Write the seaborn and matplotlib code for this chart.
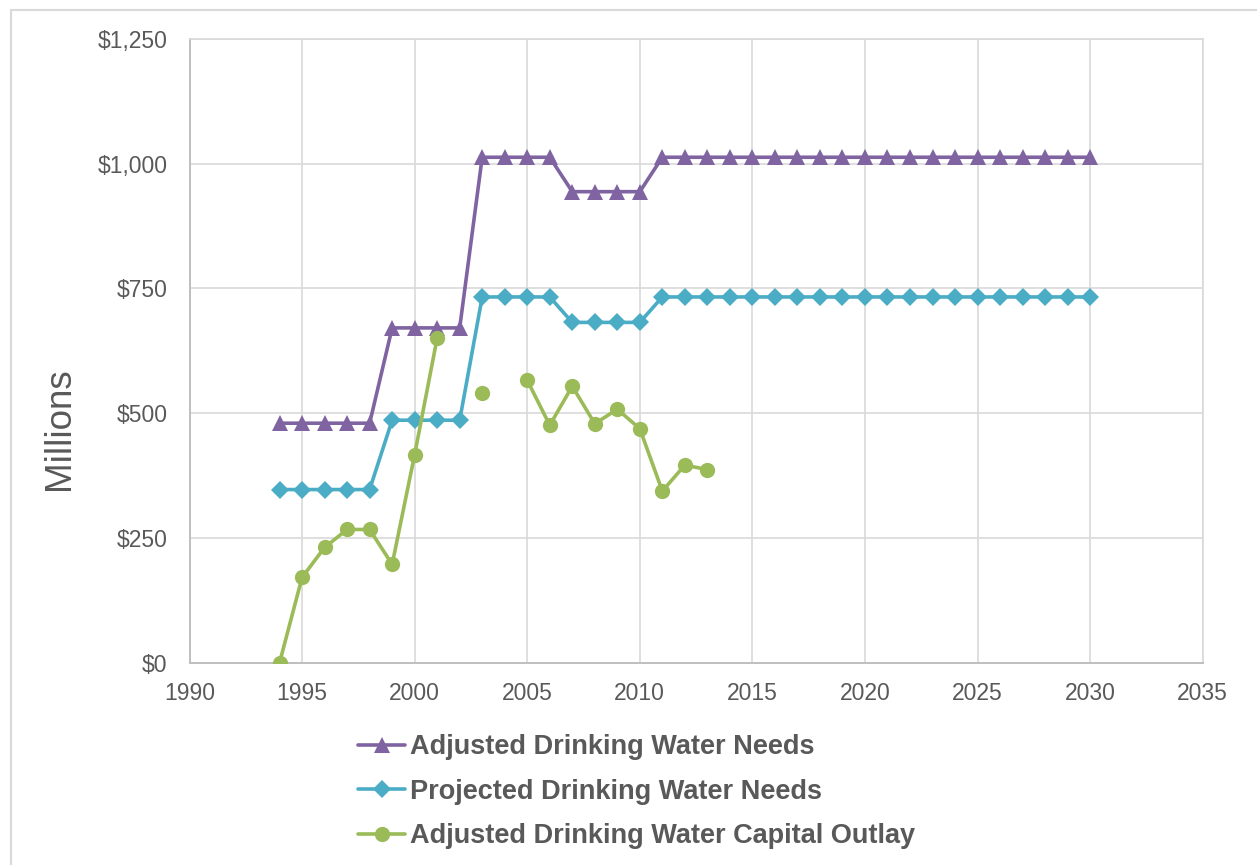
import numpy as np
import pandas as pd
import matplotlib
matplotlib.use("Agg")
import matplotlib.pyplot as plt
from matplotlib.lines import Line2D
from matplotlib.patches import Rectangle
import seaborn as sns

# ---------------- data ----------------
years = list(range(1994, 2031))
adjusted_needs = [480, 480, 480, 480, 480,
                  671, 671, 671, 671,
                  1013, 1013, 1013, 1013,
                  944, 944, 944, 944,
                  1013, 1013, 1013, 1013, 1013, 1013, 1013, 1013, 1013, 1013,
                  1013, 1013, 1013, 1013, 1013, 1013, 1013, 1013, 1013, 1013]
projected_needs = [347, 347, 347, 347, 347,
                   486, 486, 486, 486,
                   733, 733, 733, 733,
                   682, 682, 682, 682,
                   733, 733, 733, 733, 733, 733, 733, 733, 733, 733,
                   733, 733, 733, 733, 733, 733, 733, 733, 733, 733]
outlay_years = list(range(1994, 2014))
capital_outlay = [0, 171, 231, 267, 267, 197, 417, 651, np.nan, 541,
                  np.nan, 566, 476, 554, 479, 508, 469, 344, 396, 387]

series_names = ["Adjusted Drinking Water Needs",
                "Projected Drinking Water Needs",
                "Adjusted Drinking Water Capital Outlay"]
x_ticks = [1990, 1995, 2000, 2005, 2010, 2015, 2020, 2025, 2030, 2035]
y_ticks = [0, 250, 500, 750, 1000, 1250]
y_labels = ["$0", "$250", "$500", "$750", "$1,000", "$1,250"]

# ---------------- style ----------------
sns.set_theme(style="white")
plt.rcParams["font.family"] = ["Liberation Sans", "DejaVu Sans"]
TXT = "#595959"
GRID = "#D9D9D9"
colors = ["#8064A2", "#4BACC6", "#9BBB59"]
markers = ["^", "D", "o"]
msizes = [11.5, 9.5, 11]
LW = 2.6

fig = plt.figure(figsize=(12.57, 8.65), dpi=100)
ax = fig.add_axes([189.5 / 1257, 1 - 662.7 / 865, (1202.7 - 189.5) / 1257, (662.7 - 39) / 865])

df_adj = pd.DataFrame({"year": years, "value": adjusted_needs})
df_proj = pd.DataFrame({"year": years, "value": projected_needs})
df_out = pd.DataFrame({"year": outlay_years, "value": capital_outlay})
# split outlay into continuous segments (gaps where data missing)
df_out["segment"] = df_out["value"].isna().cumsum()
df_out = df_out.dropna()

sns.lineplot(data=df_adj, x="year", y="value", ax=ax, color=colors[0],
             marker=markers[0], markersize=msizes[0], linewidth=LW,
             markeredgecolor=colors[0], markeredgewidth=0, zorder=3)
sns.lineplot(data=df_proj, x="year", y="value", ax=ax, color=colors[1],
             marker=markers[1], markersize=msizes[1], linewidth=LW,
             markeredgecolor=colors[1], markeredgewidth=0, zorder=3)
sns.lineplot(data=df_out, x="year", y="value", ax=ax, color=colors[2],
             units="segment", estimator=None,
             marker=markers[2], markersize=msizes[2], linewidth=LW,
             markeredgecolor=colors[2], markeredgewidth=0, zorder=4)

ax.set_xlim(1990, 2035)
ax.set_ylim(0, 1250)
ax.set_xticks(x_ticks)
ax.set_xticklabels([str(t) for t in x_ticks])
ax.set_yticks(y_ticks)
ax.set_yticklabels(y_labels)
ax.set_xlabel("")
ax.set_ylabel("")
ax.grid(True, color=GRID, linewidth=1.2)
ax.set_axisbelow(True)
for s in ["top", "right"]:
    ax.spines[s].set_color(GRID)
    ax.spines[s].set_linewidth(1.2)
for s in ["left", "bottom"]:
    ax.spines[s].set_color("#BFBFBF")
    ax.spines[s].set_linewidth(1.4)
ax.tick_params(axis="both", length=0, labelsize=16.5, labelcolor=TXT)
ax.tick_params(axis="x", pad=14)
ax.tick_params(axis="y", pad=16)

fig.text(59 / 1257, 1 - 429 / 865, "Millions", rotation=90, fontsize=26.5,
         color=TXT, ha="center", va="center")

handles = [Line2D([0], [0], color=c, marker=m, markersize=ms, linewidth=LW,
                  markeredgewidth=0)
           for c, m, ms in zip(colors, markers, msizes)]
leg = fig.legend(handles, series_names, loc="upper left",
                 bbox_to_anchor=(358 / 1257, 1 - 734 / 865),
                 frameon=False, fontsize=19.5, handlelength=1.74,
                 handletextpad=0.19, labelspacing=0.69, borderpad=0,
                 borderaxespad=0)
for t in leg.get_texts():
    t.set_color(TXT)
    t.set_fontweight("bold")

fig.add_artist(Rectangle((11 / 1257, -0.2), 1.5, 1 - 10 / 865 + 0.2,
                         transform=fig.transFigure, fill=False,
                         edgecolor=GRID, linewidth=1.5))

fig.savefig("out.png", dpi=100, facecolor="white")
